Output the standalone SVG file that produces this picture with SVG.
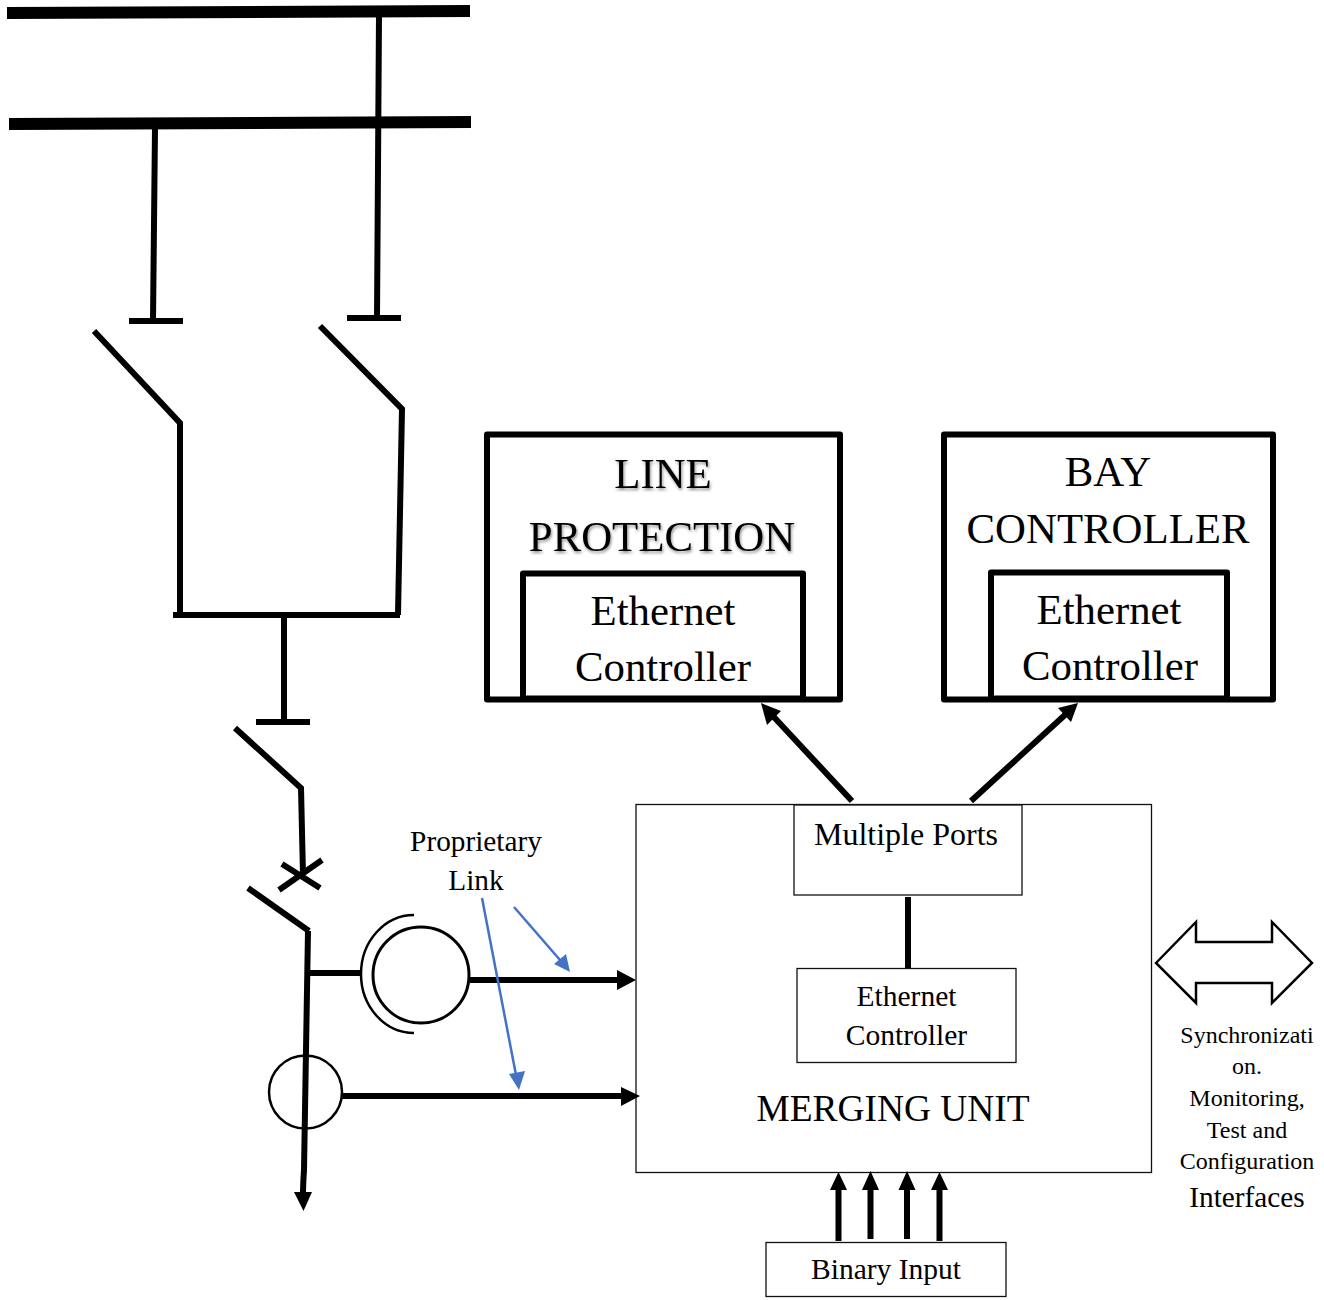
<svg xmlns="http://www.w3.org/2000/svg" width="1324" height="1300" viewBox="0 0 1324 1300">
<style>
text{font-family:"Liberation Serif","Times New Roman",serif;fill:#000;text-anchor:middle}
.l{fill:none;stroke:#000;stroke-width:6}
.h{fill:none;stroke:#000;stroke-width:6;stroke-linejoin:round}
.t{fill:#fff;stroke:#111;stroke-width:1.3}
.b{fill:none;stroke:#4472c4;stroke-width:2.5}
.big{font-size:42.8px}.mid{font-size:32px}.sm{font-size:24px}.ec{font-size:29.500px}
</style>
<defs>
<filter id="s" x="-5%" y="-10%" width="110%" height="130%"><feDropShadow dx="1" dy="2" stdDeviation="1.5" flood-color="#000" flood-opacity=".45"/></filter>
</defs>
<rect width="1324" height="1300" fill="#fff"/>
<g id="busbars">
<path d="M7 13L470 11" fill="none" stroke="#000" stroke-width="12"/>
<path d="M9 124L471 122" fill="none" stroke="#000" stroke-width="12"/>
</g>
<g id="switchgear">
<path class="l" d="M379 15L377 318M347 318H401M155 128L153 321M129 321H183"/>
<path class="l" d="M94 331L180 423V613M320 326L402 409L398 615M173 615H400M284 615V722M256 722H310"/>
<path class="l" d="M235 728L301 788L303 875M282 864L320 888M279 890L322 860M248 888L309 931"/>
</g>
<g id="ct-1">
<path d="M414 915A53 59 0 0 0 414 1033" fill="none" stroke="#000" stroke-width="2.500"/>
<circle cx="421" cy="975" r="48" fill="none" stroke="#000" stroke-width="3"/>
</g>
<g id="ct-2"><circle cx="305.500" cy="1092" r="36.500" fill="none" stroke="#000" stroke-width="2.500"/></g>
<g id="line-protection">
<rect x="487" y="434.500" width="353" height="265" class="h"/>
<rect x="523" y="573.500" width="280" height="125" class="h"/>
<text x="663" y="488" class="big" filter="url(#s)">LINE</text>
<text x="662" y="551" class="big" filter="url(#s)">PROTECTION</text>
<text x="663" y="625" class="big">Ethernet</text>
<text x="663" y="681" class="big">Controller</text>
</g>
<g id="bay-controller">
<rect x="944" y="434.500" width="329" height="265" class="h"/>
<rect x="991" y="572.500" width="236" height="126" class="h"/>
<text x="1108" y="486" class="big">BAY</text>
<text x="1108" y="543" class="big">CONTROLLER</text>
<text x="1109" y="624" class="big">Ethernet</text>
<text x="1110" y="680" class="big">Controller</text>
</g>
<g id="merging-unit">
<rect x="636" y="804.500" width="515.500" height="368" class="t"/>
<text x="893" y="1121" font-size="37.400">MERGING UNIT</text>
</g>
<g id="multiple-ports">
<rect x="794" y="805" width="228" height="90" class="t"/>
<text x="906" y="845" class="mid">Multiple Ports</text>
</g>
<g id="ethernet-controller">
<rect x="797" y="968.500" width="219" height="94" class="t"/>
<text x="906.500" y="1006" class="ec">Ethernet</text>
<text x="906.500" y="1045" class="ec">Controller</text>
</g>
<g id="binary-input">
<rect x="766" y="1242.500" width="240" height="54" class="t"/>
<text x="886" y="1279" class="ec">Binary Input</text>
</g>
<g id="interfaces">
<path d="M1156 963L1196 922V942H1272V922L1312 963L1272 1003V983H1196V1003Z" fill="#fff" stroke="#000" stroke-width="2.500"/>
<text x="1247" y="1043" class="sm">Synchronizati</text>
<text x="1247" y="1074" class="sm">on.</text>
<text x="1247" y="1106" class="sm">Monitoring,</text>
<text x="1247" y="1138" class="sm">Test and</text>
<text x="1247" y="1169" class="sm">Configuration</text>
<text x="1247" y="1207" font-size="29.300">Interfaces</text>
</g>
<g id="proprietary-link">
<text x="476" y="851" font-size="29.300">Proprietary</text>
<text x="476" y="890" font-size="29.300">Link</text>
</g>
<g id="connectors">
<path class="l" d="M308 931L304 1170Q303 1185 303 1194"/>
<path d="M294 1192H312L303.500 1211Z" fill="#000"/>
<path class="l" d="M308 973H361"/>
<path class="l" d="M470 980H618"/><path d="M617 970L636 980L617 990Z" fill="#000"/>
<path class="l" d="M342 1096H622"/><path d="M621 1087L640 1096L621 1106Z" fill="#000"/>
<path class="l" d="M908 897V968"/>
<path class="l" d="M852 801L772 715"/><path d="M761 703L781 711L767 725Z" fill="#000"/>
<path class="l" d="M971 801L1066 714"/><path d="M1078 703L1071 722L1058 708Z" fill="#000"/>
<path class="l" d="M838.500 1241V1188M870.500 1239V1188M907 1239V1188M939.500 1241V1188"/>
<path d="M830 1190L838.500 1172L847 1190ZM862 1190L870.500 1171L879 1190ZM898.500 1190L907 1171L915.500 1190ZM931 1190L939.500 1172L948 1190Z" fill="#000"/>
<path class="b" d="M514 907L560 960"/><path d="M570 972L554 964L566 954Z" fill="#4472c4"/>
<path class="b" d="M482 898L516 1075"/><path d="M519 1090L509 1074L525 1071Z" fill="#4472c4"/>
</g>
</svg>
